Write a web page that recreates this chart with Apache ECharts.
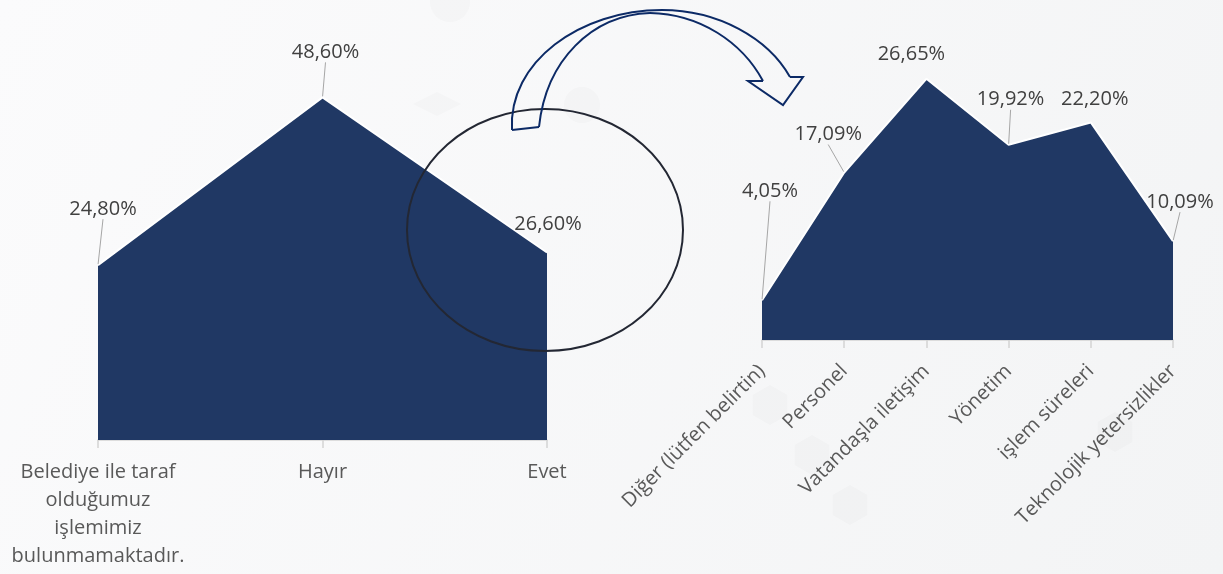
<!DOCTYPE html>
<html>
<head>
<meta charset="utf-8">
<script src="https://cdn.jsdelivr.net/npm/echarts@6/dist/echarts.min.js"></script>
<style>
html,body{margin:0;padding:0;background:#f7f7f8;}
#chart{width:1223px;height:574px;}
</style>
</head>
<body>
<div id="chart"></div>
<script>
// ---- data ----
const leftCategories = ['Belediye ile taraf\nolduğumuz\nişlemimiz\nbulunmamaktadır.', 'Hayır', 'Evet'];
const leftValues = [24.80, 48.60, 26.60];
const rightCategories = ['Diğer (lütfen belirtin)', 'Personel', 'Vatandaşla iletişim', 'Yönetim', 'işlem süreleri', 'Teknolojik yetersizlikler'];
const rightValues = [4.05, 17.09, 26.65, 19.92, 22.20, 10.09];

// ---- label placement (style) ----
const leftLabelOffsets = [[5, -56], [3, -45], [1, -28]];
const rightLabelOffsets = [[8, -109], [-16, -38], [-15, -25], [2, -45], [4, -23], [7, -39]];

const FONT = '"Open Sans", "Noto Sans", sans-serif';
const NAVY = '#203864';

function fmt(p) { return p.value.toFixed(2).replace('.', ',') + '%'; }

function makeSeries(idx, values, offsets) {
  return {
    type: 'line',
    xAxisIndex: idx, yAxisIndex: idx,
    data: values.map((v, i) => ({ value: v, labelLine: { show: Math.abs(offsets[i][1]) > 35 } })),
    symbol: 'circle', symbolSize: 2,
    itemStyle: { color: 'rgba(0,0,0,0)', borderWidth: 0 },
    lineStyle: { color: '#ffffff', width: 2 },
    areaStyle: { color: NAVY, opacity: 1 },
    label: { show: true, position: 'inside', formatter: fmt, fontFamily: FONT, fontSize: 20, color: '#404040' },
    labelLine: { show: true, lineStyle: { color: '#a6a6a6', width: 1 } },
    labelLayout: function (p) {
      const o = offsets[p.dataIndex];
      const cx = p.rect.x + p.rect.width / 2, cy = p.rect.y + p.rect.height / 2;
      const ex = cx + o[0], ey = cy + o[1] + 18;
      return { dx: o[0], dy: o[1], labelLinePoints: [[cx, cy], [ex, ey], [ex, ey]] };
    },
    emphasis: { disabled: true },
    silent: true,
    animation: false
  };
}

const axisLineStyle = { color: '#d4d4d4', width: 1.5 };
const arrowStyle = { fill: 'none', stroke: '#0c2a66', lineWidth: 2 };
const decoFill = 'rgba(60,60,70,0.018)';

function bez(a, c1, c2, b) {
  return { type: 'bezierCurve', z: 101, silent: true,
    shape: { x1: a[0], y1: a[1], cpx1: c1[0], cpy1: c1[1], cpx2: c2[0], cpy2: c2[1], x2: b[0], y2: b[1] },
    style: arrowStyle };
}
function hex(cx, cy, r) {
  const pts = [];
  for (let k = 0; k < 6; k++) { const a = Math.PI / 6 + k * Math.PI / 3; pts.push([cx + r * Math.cos(a), cy + r * Math.sin(a)]); }
  return { type: 'polygon', z: 0, silent: true, shape: { points: pts }, style: { fill: decoFill } };
}
function diamond(cx, cy, w, h) {
  return { type: 'polygon', z: 0, silent: true,
    shape: { points: [[cx - w, cy], [cx, cy - h], [cx + w, cy], [cx, cy + h]] }, style: { fill: decoFill } };
}

const option = {
  backgroundColor: {
    type: 'linear', x: 0, y: 0, x2: 1, y2: 1,
    colorStops: [{ offset: 0, color: '#fbfbfc' }, { offset: 1, color: '#f3f4f5' }]
  },
  animation: false,
  grid: [
    { left: 98, right: 676, top: 17, bottom: 134 },
    { left: 762, right: 50, top: 46, bottom: 234 }
  ],
  xAxis: [
    {
      gridIndex: 0, type: 'category', boundaryGap: false, data: leftCategories,
      axisLine: { lineStyle: axisLineStyle },
      axisTick: { show: true, length: 8, lineStyle: axisLineStyle },
      axisLabel: { interval: 0, fontFamily: FONT, fontSize: 20, lineHeight: 28, color: '#595959', margin: 18 }
    },
    {
      gridIndex: 1, type: 'category', boundaryGap: false, data: rightCategories,
      axisLine: { lineStyle: axisLineStyle },
      axisTick: { show: true, length: 8, lineStyle: axisLineStyle },
      axisLabel: { interval: 0, rotate: 45, fontFamily: FONT, fontSize: 20, color: '#595959', margin: 28 }
    }
  ],
  yAxis: [
    { gridIndex: 0, type: 'value', min: 0, max: 60, show: false },
    { gridIndex: 1, type: 'value', min: 0, max: 30, show: false }
  ],
  series: [
    makeSeries(0, leftValues, leftLabelOffsets),
    makeSeries(1, rightValues, rightLabelOffsets)
  ],
  graphic: [
    diamond(437, 104, 24, 12),
    { type: 'circle', z: 0, silent: true, shape: { cx: 582, cy: 105, r: 18 }, style: { fill: decoFill } },
    { type: 'circle', z: 0, silent: true, shape: { cx: 450, cy: 2, r: 20 }, style: { fill: decoFill } },
    hex(770, 405, 20), hex(812, 455, 20), hex(850, 505, 20), hex(1115, 432, 20),
    {
      type: 'ellipse', z: 100, silent: true,
      shape: { cx: 545, cy: 230, rx: 138, ry: 121 },
      style: { fill: 'none', stroke: '#232733', lineWidth: 2 }
    },
    bez([512, 130], [508, 62], [580, 10], [662, 10]),
    bez([662, 10], [718, 10], [768, 38], [790, 77]),
    { type: 'polyline', z: 101, silent: true,
      shape: { points: [[790, 77], [803, 77], [783, 105], [748, 81], [763, 81]] },
      style: arrowStyle },
    bez([763, 81], [742, 42], [700, 14], [650, 13]),
    bez([650, 13], [592, 15], [546, 60], [539, 127]),
    { type: 'line', z: 101, silent: true,
      shape: { x1: 539, y1: 127, x2: 512, y2: 130 }, style: arrowStyle }
  ]
};

const chart = echarts.init(document.getElementById('chart'), null, { renderer: 'canvas' });
chart.setOption(option);
</script>
</body>
</html>
